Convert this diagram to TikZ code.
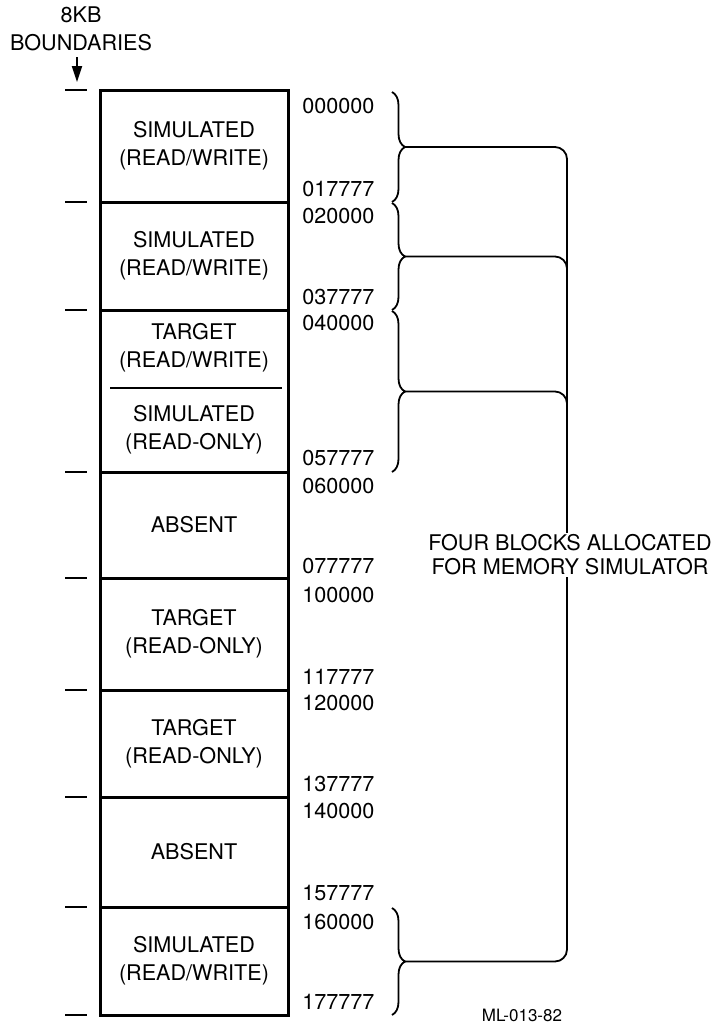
\documentclass[tikz,border=0pt]{standalone}
\usepackage{fontspec}
\setmainfont{TeX Gyre Heros}
\usetikzlibrary{positioning,decorations.pathreplacing,arrows.meta}

\begin{document}
\begin{tikzpicture}[
    x=0.5pt, y=-0.5pt,
    cell/.style={draw, line width=1.5pt, minimum width=94pt, inner sep=0pt, align=center, font=\fontsize{10.8}{14}\selectfont},
    lbl/.style={align=center, inner sep=0pt, font=\fontsize{10.8}{14}\selectfont},
    addr/.style={anchor=west, inner sep=0pt, font=\fontsize{10.8}{12}\selectfont},
    tick/.style={line width=1pt},
    pointer/.style={-{Triangle[length=8pt,width=5pt]}, line width=1pt},
    brace/.style={decorate, decoration={brace, amplitude=6.5pt}, line width=0.9pt},
    link/.style={line width=0.9pt, rounded corners=6pt},
    note/.style={align=center, fill=white, inner xsep=0pt, inner ysep=1pt, font=\fontsize{10.8}{12}\selectfont}
]
\useasboundingbox (0,0) rectangle (717,1025);

\node[cell, minimum height=56pt] (r1) at (194,146) {SIMULATED\\(READ/WRITE)};
\node[cell, minimum height=54pt] (r2) at (194,256) {SIMULATED\\(READ/WRITE)};
\node[cell, minimum height=81pt] (r3) at (194,391) {};
\node[cell, minimum height=53pt] (r4) at (194,525) {ABSENT};
\node[cell, minimum height=56pt] (r5) at (194,634) {TARGET\\(READ-ONLY)};
\node[cell, minimum height=53.5pt] (r6) at (194,743.5) {TARGET\\(READ-ONLY)};
\node[cell, minimum height=55pt] (r7) at (194,852) {ABSENT};
\node[cell, minimum height=54pt] (r8) at (194,961) {SIMULATED\\(READ/WRITE)};
\node[lbl] (r3a) at (194,348) {TARGET\\(READ/WRITE)};
\node[lbl] (r3b) at (194,430) {SIMULATED\\(READ-ONLY)};
\draw[line width=1pt] (110,388) -- (282,388);

\foreach \y in {90,202,310,472,578,690,797,907,1015}
    \draw[tick] (65,\y) -- (87,\y);
\coordinate (tk0) at (77,90);
\node[lbl] (hdr) at (81,29) {8KB\\BOUNDARIES};
\draw[pointer] (tk0 |- hdr.south) ++(0,-3pt) -- ([yshift=4pt]tk0);

\foreach \y/\a in {106/000000, 189/017777, 216/020000, 297/037777, 323/040000,
                   458/057777, 486/060000, 566/077777, 595/100000, 677/117777,
                   703/120000, 784/137777, 811/140000, 893/157777, 922/160000, 1002/177777}
    \node[addr] (a\a) at (302,\y) {\a};

\draw[brace] (392,92) -- (392,202);
\draw[brace] (392,203) -- (392,310);
\draw[brace] (392,311) -- (392,472);
\draw[brace] (392,908) -- (392,1015);
\coordinate (k1) at (405,147);
\coordinate (k2) at (405,256.5);
\coordinate (k3) at (405,391.5);
\coordinate (k4) at (405,961.5);
\coordinate (bus) at (567,600);

\draw[link] (k1) -| (k4 -| bus) -- (k4);
\draw[link] (k2) -| ([yshift=-20pt]k2 -| bus);
\draw[link] (k3) -| ([yshift=-20pt]k3 -| bus);

\node[note] (fb) at (570,555) {FOUR BLOCKS ALLOCATED\\FOR MEMORY SIMULATOR};
\node[inner sep=0pt, font=\fontsize{8.5}{10}\selectfont] (ml) at (522,1015) {ML-013-82};
\end{tikzpicture}
\end{document}
